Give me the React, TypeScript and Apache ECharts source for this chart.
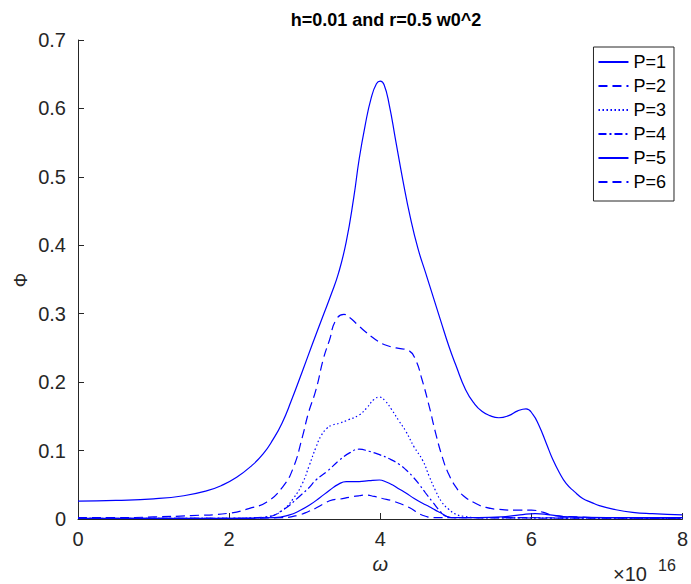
import React, { useEffect, useRef } from "react";
import * as echarts from "echarts";

const titleText = "h=0.01 and r=0.5 w0^2";
const seriesNames = ["P=1", "P=2", "P=3", "P=4", "P=5", "P=6"];
const xTicks = { min: 0, max: 8, interval: 2 };
const yTicks = { min: 0, max: 0.7, interval: 0.1 };

const p1: number[][] = [
  [0, 0.026], [0.5, 0.0272], [1.0, 0.0295], [1.4, 0.034], [1.7, 0.041], [1.9, 0.049],
  [2.1, 0.061], [2.3, 0.078], [2.45, 0.095], [2.58, 0.116], [2.7, 0.14], [2.82, 0.172],
  [2.97, 0.216], [3.1, 0.255], [3.24, 0.296], [3.35, 0.328], [3.45, 0.36], [3.55, 0.405],
  [3.65, 0.47], [3.72, 0.525], [3.8, 0.575], [3.88, 0.615], [3.95, 0.636], [4.0, 0.64],
  [4.05, 0.635], [4.12, 0.605], [4.2, 0.556], [4.3, 0.495], [4.4, 0.44], [4.5, 0.395],
  [4.6, 0.36], [4.7, 0.325], [4.8, 0.29], [4.91, 0.252], [5.0, 0.225], [5.13, 0.189],
  [5.25, 0.168], [5.35, 0.157], [5.45, 0.151], [5.57, 0.148], [5.7, 0.151], [5.82, 0.158],
  [5.93, 0.161], [6.02, 0.153], [6.1, 0.137], [6.2, 0.11], [6.28, 0.088], [6.37, 0.068],
  [6.46, 0.052], [6.57, 0.04], [6.68, 0.03], [6.8, 0.024], [6.9, 0.0195], [7.1, 0.014],
  [7.34, 0.0098], [7.6, 0.0078], [8.0, 0.006],
];

const p2: number[][] = [
  [0, 0.002], [0.5, 0.002], [1.0, 0.003], [1.5, 0.005], [2.0, 0.0085], [2.27, 0.0156],
  [2.5, 0.025], [2.71, 0.047], [2.85, 0.075], [2.97, 0.12], [3.05, 0.155], [3.15, 0.189],
  [3.25, 0.235], [3.33, 0.262], [3.41, 0.29], [3.52, 0.299], [3.6, 0.294], [3.7, 0.284],
  [3.8, 0.274], [3.94, 0.262], [4.05, 0.255], [4.21, 0.25], [4.38, 0.246], [4.47, 0.232],
  [4.55, 0.205], [4.65, 0.164], [4.73, 0.127], [4.82, 0.091], [4.9, 0.067], [5.0, 0.047],
  [5.1, 0.034], [5.26, 0.023], [5.4, 0.017], [5.57, 0.014], [5.8, 0.013], [6.0, 0.013],
  [6.15, 0.01], [6.3, 0.005], [6.6, 0.003], [7.0, 0.002], [8.0, 0.002],
];

const p3: number[][] = [
  [0, 0.001], [1, 0.001], [2, 0.001], [2.4, 0.002], [2.54, 0.004], [2.71, 0.013],
  [2.85, 0.03], [2.97, 0.052], [3.06, 0.078], [3.15, 0.105], [3.22, 0.122], [3.29, 0.132],
  [3.36, 0.137], [3.46, 0.14], [3.58, 0.145], [3.72, 0.152], [3.82, 0.162], [3.92, 0.175],
  [3.99, 0.178], [4.07, 0.172], [4.15, 0.16], [4.25, 0.143], [4.34, 0.128], [4.45, 0.105],
  [4.56, 0.086], [4.65, 0.062], [4.73, 0.042], [4.82, 0.024], [4.91, 0.014], [5.0, 0.007],
  [5.1, 0.004], [5.3, 0.002], [8.0, 0.001],
];

const p4: number[][] = [
  [0, 0.001], [2, 0.001], [2.49, 0.003], [2.71, 0.013], [2.93, 0.033], [3.05, 0.045],
  [3.15, 0.057], [3.3, 0.07], [3.46, 0.086], [3.6, 0.097], [3.72, 0.102], [3.85, 0.099],
  [3.99, 0.094], [4.12, 0.088], [4.25, 0.08], [4.34, 0.072], [4.43, 0.062], [4.52, 0.05],
  [4.6, 0.038], [4.7, 0.024], [4.78, 0.013], [4.87, 0.004], [5.0, 0.002], [8.0, 0.001],
];

const p5: number[][] = [
  [0, 0.001], [2, 0.001], [2.6, 0.002], [2.8, 0.006], [2.93, 0.012], [3.06, 0.02],
  [3.2, 0.031], [3.33, 0.042], [3.45, 0.051], [3.55, 0.0546], [3.72, 0.0546], [3.85, 0.056],
  [3.99, 0.057], [4.08, 0.054], [4.16, 0.05], [4.25, 0.044], [4.34, 0.038], [4.45, 0.03],
  [4.56, 0.023], [4.65, 0.018], [4.73, 0.013], [4.8, 0.009], [4.87, 0.0044], [4.95, 0.002],
  [5.3, 0.002], [5.6, 0.003], [5.85, 0.006], [6.05, 0.008], [6.25, 0.006], [6.5, 0.003],
  [7.0, 0.002], [8.0, 0.002],
];

const p6: number[][] = [
  [0, 0.001], [2, 0.001], [2.7, 0.002], [2.93, 0.006], [3.05, 0.011], [3.15, 0.016],
  [3.25, 0.022], [3.37, 0.028], [3.46, 0.029], [3.6, 0.032], [3.72, 0.034], [3.81, 0.035],
  [3.92, 0.033], [4.03, 0.03], [4.15, 0.027], [4.25, 0.023], [4.34, 0.019], [4.43, 0.014],
  [4.51, 0.008], [4.6, 0.004], [4.7, 0.002], [5.0, 0.002], [8.0, 0.001],
];

const allData = [p1, p2, p3, p4, p5, p6];
const dashes: (number[] | "solid")[] = ["solid", [9, 5], [1.5, 2.5], [8, 3, 2, 3], "solid", [9, 5]];

const BLUE = "#0000ff";
const AXIS = "#262626";
const FONT = "'Liberation Sans', Arial, Helvetica, sans-serif";

export default function App() {
  const ref = useRef<HTMLDivElement>(null);
  useEffect(() => {
    if (!ref.current) return;
    const chart = echarts.init(ref.current, null, { renderer: "svg" });
    chart.setOption({
      animation: false,
      backgroundColor: "#ffffff",
      textStyle: { fontFamily: FONT },
      title: {
        text: titleText,
        left: 381,
        top: 6,
        textAlign: "center",
        textStyle: { fontSize: 18, fontWeight: "bold", color: "#000", fontFamily: FONT },
      },
      legend: {
        data: seriesNames,
        orient: "vertical",
        right: 17,
        top: 47,
        itemWidth: 30,
        itemHeight: 14,
        itemGap: 6,
        padding: [6, 8, 10, 4],
        borderColor: AXIS,
        borderWidth: 1,
        backgroundColor: "#fff",
        itemStyle: { opacity: 0 },
        textStyle: { fontSize: 18, color: "#000", fontFamily: FONT, lineHeight: 18 },
      },
      grid: { left: 78, right: 7, top: 40, bottom: 65, containLabel: false },
      xAxis: {
        type: "value",
        min: xTicks.min,
        max: xTicks.max,
        interval: xTicks.interval,
        name: "ω",
        nameLocation: "middle",
        nameGap: 31,
        nameTextStyle: { fontSize: 20, fontStyle: "italic", color: AXIS, fontFamily: FONT },
        axisLine: { show: true, lineStyle: { color: AXIS, width: 1 } },
        axisTick: { show: true, inside: true, length: 6, lineStyle: { color: AXIS } },
        axisLabel: { fontSize: 20, color: AXIS, margin: 10, fontFamily: FONT },
        splitLine: { show: false },
      },
      yAxis: {
        type: "value",
        min: yTicks.min,
        max: yTicks.max,
        interval: yTicks.interval,
        axisLine: { show: true, lineStyle: { color: AXIS, width: 1 } },
        axisTick: { show: true, inside: true, length: 6, lineStyle: { color: AXIS } },
        axisLabel: { fontSize: 20, color: AXIS, margin: 12, fontFamily: FONT },
        splitLine: { show: false },
      },
      graphic: [
        {
          type: "text",
          x: 21,
          y: 280,
          rotation: Math.PI / 2,
          style: { text: "Φ", fill: AXIS, font: `18px ${FONT}`, align: "center", verticalAlign: "middle" },
        },
        {
          type: "text",
          left: 613,
          top: 564,
          style: { text: "×10", fill: AXIS, font: `20px ${FONT}` },
        },
        {
          type: "text",
          left: 658,
          top: 557,
          style: { text: "16", fill: AXIS, font: `16px ${FONT}` },
        },
      ],
      series: allData.map((d, i) => ({
        name: seriesNames[i],
        type: "line",
        data: d,
        showSymbol: false,
        symbol: "none",
        smooth: 0.5,
        lineStyle: { color: BLUE, width: 1.2, type: dashes[i] },
        itemStyle: { color: BLUE },
        z: 2,
      })),
    });
    return () => chart.dispose();
  }, []);
  return (
    <div
      ref={ref}
      style={{ position: "fixed", left: 0, top: 0, width: 691, height: 584, background: "#fff" }}
    />
  );
}
